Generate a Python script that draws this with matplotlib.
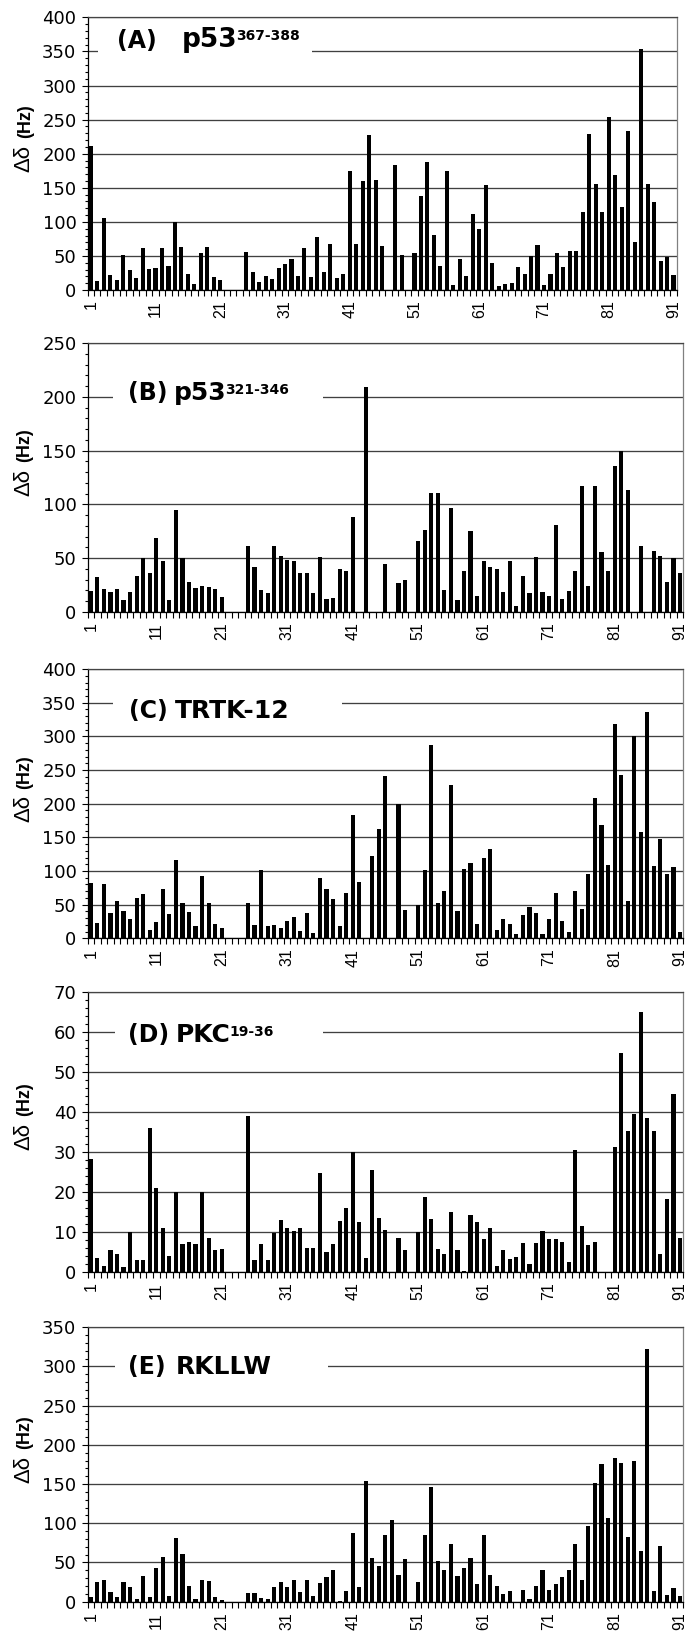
import numpy as np
import matplotlib.pyplot as plt
from matplotlib.patches import Rectangle
from matplotlib.ticker import MultipleLocator, FixedLocator

plt.rcParams['font.family'] = 'DejaVu Sans'

# --- Data: chemical shift change per residue, five peptides ---
residues = np.arange(1, 92)
tick_residues = [1, 11, 21, 31, 41, 51, 61, 71, 81, 91]

shift_a = [212, 13, 106, 22, 15, 51, 30, 18, 62, 31,
           32, 61, 35, 100, 63, 24, 9, 54, 63, 19,
           15, 0, 0, 0, 56, 27, 12, 20, 16, 33,
           38, 45, 20, 61, 19, 78, 27, 68, 18, 24,
           175, 68, 160, 228, 161, 64, 0, 183, 52, 0,
           55, 138, 188, 81, 35, 174, 7, 46, 20, 112,
           89, 154, 40, 6, 9, 11, 34, 23, 50, 66,
           8, 23, 55, 34, 58, 57, 115, 229, 156, 114,
           254, 169, 122, 234, 70, 354, 156, 129, 43, 49,
           22]

shift_b = [19, 32, 21, 18, 21, 11, 18, 33, 50, 36,
           69, 47, 11, 95, 50, 28, 22, 24, 23, 21,
           14, 0, 0, 0, 61, 42, 20, 17, 61, 52,
           48, 47, 36, 36, 17, 51, 12, 13, 40, 38,
           88, 0, 209, 0, 0, 44, 0, 27, 30, 0,
           66, 76, 111, 111, 20, 97, 11, 38, 75, 15,
           47, 42, 40, 18, 47, 5, 33, 17, 51, 18,
           15, 81, 12, 19, 38, 117, 24, 117, 56, 38,
           136, 150, 113, 0, 61, 0, 57, 52, 28, 50,
           36]

shift_c = [82, 23, 80, 37, 55, 41, 29, 60, 66, 13,
           24, 73, 36, 117, 53, 39, 19, 93, 53, 21,
           15, 0, 0, 0, 52, 20, 102, 19, 20, 15,
           25, 32, 11, 38, 8, 89, 73, 58, 18, 68,
           183, 83, 0, 123, 163, 241, 0, 200, 42, 0,
           50, 102, 287, 53, 70, 228, 41, 103, 112, 22,
           120, 132, 12, 28, 22, 7, 34, 47, 37, 6,
           28, 67, 25, 9, 70, 44, 95, 208, 168, 109,
           319, 242, 56, 300, 158, 336, 108, 148, 95, 106,
           10]

shift_d = [28.2, 3.3, 1.5, 5.4, 4.5, 1.2, 10, 2.8, 3, 36,
           21, 10.8, 3.8, 20, 6.8, 7.5, 6.8, 20, 8.5, 5.3,
           5.7, 0, 0, 0, 38.8, 2.8, 7, 2.8, 9.7, 12.9,
           11, 10.1, 11, 5.8, 6, 24.7, 5, 6.8, 12.6, 16,
           30, 12.5, 3.3, 25.5, 13.5, 10.4, 0, 8.3, 5.3, 0,
           10, 18.7, 13.1, 5.6, 4.3, 14.8, 5.3, 0.25, 14.1, 12.5,
           8.1, 10.8, 1.4, 5.3, 3.2, 3.75, 7.1, 1.8, 7.25, 10.25,
           8.1, 8.1, 7.4, 2.4, 30.4, 11.5, 6.7, 7.4, 0, 0,
           31.25, 54.6, 35.2, 39.3, 64.8, 38.5, 35.2, 4.3, 18.1, 44.3,
           8.5]

shift_e = [5.5, 25.5, 27.6, 12.8, 5.5, 25, 18.3, 3, 33, 6,
           43, 57, 7, 81, 61, 19.5, 4, 28, 26, 6,
           1.5, 0, 0, 0, 10.6, 10.6, 4.7, 3.8, 18.7, 25,
           18.7, 28, 12, 27, 7, 23.4, 32, 41, 1, 13,
           87, 18.7, 154, 56, 46, 85, 104, 34, 55, 0,
           25.5, 85, 146, 52, 40, 74, 33, 43, 56, 22.5,
           85, 34, 20, 10, 13.6, 0, 14.5, 3, 20, 41,
           14.5, 22, 32, 41, 73, 27, 96, 151, 175, 107,
           183, 177, 82, 179, 64, 322, 13, 71, 8, 18,
           7]

tags = ["(A)", "(B)", "(C)", "(D)", "(E)"]
names = ["p53", "p53", "TRTK-12", "PKC", "RKLLW"]
sups = ["367-388", "321-346", "", "19-36", ""]
y_max = [400, 250, 400, 70, 350]
y_major = [50, 50, 50, 10, 50]
y_minor = [10, 10, 10, 2, 10]

# --- Layout (figure fractions / data positions of the labels) ---
rects = [
    [0.1276, 0.8228, 0.8589, 0.1666],
    [0.1276, 0.6263, 0.8685, 0.1640],
    [0.1276, 0.4268, 0.8685, 0.1645],
    [0.1276, 0.2232, 0.8685, 0.1710],
    [0.1276, 0.0216, 0.8685, 0.1676],
]
tag_x = [5.06, 6.7, 6.85, 6.7, 6.7]
name_gap = [18, 4.5, 5, 4.5, 7]          # points between tag and name
name_size = [19, 18, 18, 18, 18]
base_y = [354.5, 197, 328, 57.3, 290.5]
box = [(2.1, 35.2, 335, 378), (4.4, 36.5, 190, 214), (4.4, 39.4, 335, 368),
       (4.7, 36.5, 56.5, 64), (4.7, 37.2, 285, 318)]

series = [shift_a, shift_b, shift_c, shift_d, shift_e]

fig = plt.figure(figsize=(6.86, 16.37), dpi=100)

for i, vals in enumerate(series):
    ax = fig.add_axes(rects[i])
    ax.bar(residues, vals, width=0.63, color='black', linewidth=0, zorder=2)

    ax.set_xlim(0.5, 91.5)
    ax.set_ylim(0, y_max[i])

    # x axis: labels every 10 residues, tick marks between bars
    ax.set_xticks(tick_residues)
    ax.set_xticklabels([str(t) for t in tick_residues], rotation=90,
                       family='Liberation Sans')
    ax.xaxis.set_minor_locator(FixedLocator(np.arange(0.5, 92, 1)))
    ax.tick_params(axis='x', which='major', length=0, pad=7.5, labelsize=11.5)
    ax.tick_params(axis='x', which='minor', length=4.5, width=0.8, direction='out')

    # y axis
    ax.yaxis.set_major_locator(MultipleLocator(y_major[i]))
    ax.yaxis.set_minor_locator(MultipleLocator(y_minor[i]))
    ax.tick_params(axis='y', which='major', length=4, width=0.8, pad=4, labelsize=13)
    ax.tick_params(axis='y', which='minor', length=2.2, width=0.8)

    ax.yaxis.grid(True, which='major', color='#404040', linewidth=0.95)
    ax.set_axisbelow(True)

    ax.spines['left'].set_color('black')
    ax.spines['bottom'].set_color('black')
    ax.spines['top'].set_color('#444444')
    ax.spines['right'].set_color('#808080')
    for s in ax.spines.values():
        s.set_linewidth(0.9)

    # y label: regular delta-delta plus bold (Hz)
    xl = -0.098
    ax.text(xl, 0.532, "Δδ", transform=ax.transAxes, rotation=90,
            rotation_mode='anchor', ha='right', va='baseline', fontsize=16,
            family='Liberation Sans')
    ax.text(xl, 0.556, "(Hz)", transform=ax.transAxes, rotation=90,
            rotation_mode='anchor', ha='left', va='baseline', fontsize=13,
            fontweight='bold', family='Liberation Sans')

    # panel label with white background over the gridline
    x0, x1, y0, y1 = box[i]
    ax.add_patch(Rectangle((x0, y0), x1 - x0, y1 - y0, facecolor='white',
                           edgecolor='none', zorder=3))
    tt = ax.text(tag_x[i], base_y[i], tags[i], ha='left', va='baseline',
                 fontsize=17, fontweight='bold', zorder=5)
    nt = ax.annotate(names[i], xy=(1, 0), xycoords=tt, xytext=(name_gap[i], 0),
                     textcoords='offset points', ha='left', va='bottom',
                     fontsize=name_size[i], fontweight='bold', zorder=5)
    if sups[i]:
        ax.annotate(sups[i], xy=(1, 1), xycoords=nt, xytext=(-1, -1),
                    textcoords='offset points', ha='left', va='top',
                    fontsize=10, fontweight='bold', zorder=5)

fig.savefig('out.png', dpi=100)
plt.close(fig)
